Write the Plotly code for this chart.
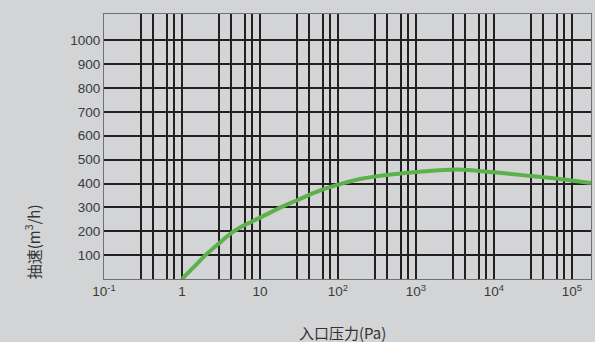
import plotly.graph_objects as go

# Curve data (inlet pressure Pa -> pumping speed m3/h)
pressure = [1, 1.5, 2, 3, 4.5, 6, 10, 20, 30, 50, 100, 200, 450, 1000, 2000, 4000, 10000, 27000, 74000, 175000]
speed = [0, 58, 100, 150, 197, 222, 257, 305, 330, 362, 395, 420, 437, 448, 456, 458, 447, 433, 418, 402]

# Axis ticks / gridlines
x_label_vals = [0.1, 1, 10, 100, 1000, 10000, 100000]
x_label_text = ["10<sup>-1</sup>", "1", "10", "10<sup>2</sup>", "10<sup>3</sup>", "10<sup>4</sup>", "10<sup>5</sup>"]
x_grid_mult = [3, 4.3, 6.35, 7.9]
y_ticks = [100, 200, 300, 400, 500, 600, 700, 800, 900, 1000]

x_grid_vals = []
for dec in [0.1, 1, 10, 100, 1000, 10000, 100000]:
    if dec > 0.1:
        x_grid_vals.append(dec)
    for m in x_grid_mult:
        v = dec * m
        if v < 175000:
            x_grid_vals.append(v)

BG = "#d3d4d6"
GRID = "#231f20"
LINE = "#707070"
TXT = "#3a3a3a"

fig = go.Figure()
fig.add_trace(go.Scatter(
    x=pressure, y=speed, mode="lines",
    line=dict(color="#5cb14a", width=4, shape="spline", smoothing=0.8),
    xaxis="x", yaxis="y", showlegend=False, hoverinfo="skip",
))
# invisible trace so the grid-only axis is active
fig.add_trace(go.Scatter(x=[1], y=[0], xaxis="x2", yaxis="y", mode="markers",
                         marker=dict(opacity=0), showlegend=False, hoverinfo="skip"))

x_range = [-1, 5.245]

fig.update_layout(
    width=595, height=342,
    margin=dict(l=104, r=4, t=14, b=63),
    paper_bgcolor=BG, plot_bgcolor=BG,
    showlegend=False,
    xaxis=dict(
        type="log", range=x_range,
        tickmode="array", tickvals=x_label_vals, ticktext=x_label_text,
        showgrid=False, showline=True, linecolor=LINE, linewidth=1, mirror=True,
        ticks="", zeroline=False,
        tickfont=dict(family="Liberation Sans, Arial", size=13.5, color=TXT),
    ),
    xaxis2=dict(
        type="log", range=x_range, overlaying="x", anchor="y",
        tickmode="array", tickvals=x_grid_vals, showticklabels=False,
        showgrid=True, gridcolor=GRID, gridwidth=2, ticks="", showline=False, zeroline=False,
    ),
    yaxis=dict(
        range=[0, 1110],
        tickmode="array", tickvals=y_ticks, ticktext=[str(v) for v in y_ticks],
        showgrid=True, gridcolor=GRID, gridwidth=2,
        showline=True, linecolor=LINE, linewidth=1, mirror=True,
        ticks="", zeroline=False,
        tickfont=dict(family="Liberation Sans, Arial", size=13.5, color=TXT),
    ),
    annotations=[
        dict(text="抽速(m<sup>3</sup>/h)", textangle=-90, xref="paper", yref="paper",
             x=-0.147, y=0.14, xanchor="center", yanchor="middle", showarrow=False,
             font=dict(family="Noto Sans CJK SC", size=15, color="#333333")),
        dict(text="入口压力(Pa)", xref="paper", yref="paper",
             x=0.489, y=-0.2, xanchor="center", yanchor="middle", showarrow=False,
             font=dict(family="Noto Sans CJK SC", size=15, color="#333333")),
    ],
)

fig.write_html("out.html", config={"displayModeBar": False},
               post_script="document.body.style.margin='0';document.body.style.padding='0';")
